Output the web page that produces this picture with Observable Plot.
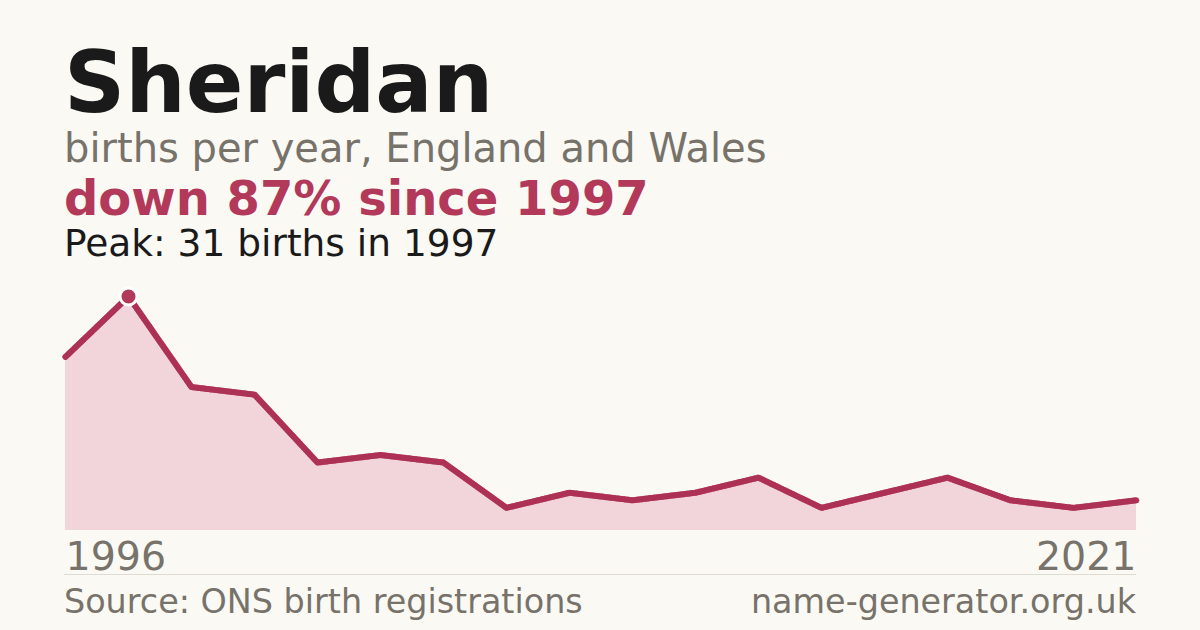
<!DOCTYPE html>
<html>
<head>
<meta charset="utf-8">
<script src="https://cdn.jsdelivr.net/npm/d3@7"></script>
<script src="https://cdn.jsdelivr.net/npm/@observablehq/plot@0.6"></script>
<style>
  html, body { margin: 0; padding: 0; background: #faf9f4; }
  body { width: 1200px; height: 630px; position: relative; overflow: hidden; font-family: "DejaVu Sans", sans-serif; }
  .t { position: absolute; left: 64px; white-space: nowrap; line-height: 0.85; }
  #title { font-size: 85px; font-weight: bold; color: #1a1a1a; top: 47px; }
  #sub { font-size: 40px; color: #77726a; top: 131px; }
  #down { font-size: 48px; font-weight: bold; color: #b3395a; top: 178px; }
  #peak { font-size: 37.5px; color: #1a1a1a; top: 228px; }
  #chart { position: absolute; left: 0; top: 270px; }
  #rule { position: absolute; left: 64px; width: 1072px; top: 574px; height: 0; border-top: 1px solid #dedbd3; }
  .foot { position: absolute; top: 585px; font-size: 33.4px; color: #77726a; white-space: nowrap; line-height: 1; }
  #src { left: 64px; }
  #site { right: 64px; }
</style>
</head>
<body>
<div class="t" id="title">Sheridan</div>
<div class="t" id="sub">births per year, England and Wales</div>
<div class="t" id="down">down 87% since 1997</div>
<div class="t" id="peak">Peak: 31 births in 1997</div>
<div id="chart"></div>
<div id="rule"></div>
<div class="foot" id="src">Source: ONS birth registrations</div>
<div class="foot" id="site">name-generator.org.uk</div>
<script>
const years = [1996, 1997, 1998, 1999, 2000, 2001, 2002, 2003, 2005, 2006, 2008, 2010, 2012, 2014, 2016, 2018, 2020, 2021];
const births = [23, 31, 19, 18, 9, 10, 9, 3, 5, 4, 5, 7, 3, 5, 7, 4, 3, 4];
const peakYear = 1997;
const peakValue = 31;

const data = years.map((y, i) => ({year: y, births: births[i]}));
const red = "#b3395a";

const chart = Plot.plot({
  width: 1200,
  height: 310,
  marginLeft: 64,
  marginRight: 64,
  marginTop: 26,
  marginBottom: 50,
  style: {background: "transparent", fontFamily: "DejaVu Sans, sans-serif"},
  x: {type: "point", domain: years, padding: 0, axis: null},
  y: {domain: [0, 31], axis: null},
  marks: [
    Plot.areaY(data, {x: "year", y: "births", fill: "#f2d5da"}),
    Plot.lineY(data, {x: "year", y: "births", stroke: "#c8687f", strokeWidth: 6}),
    Plot.lineY(data, {x: "year", y: "births", stroke: "#ad3055", strokeWidth: 6, strokeDasharray: "1.2 1.8"}),
    Plot.dot([{year: peakYear, births: peakValue}], {x: "year", y: "births", r: 8.5, fill: red, stroke: "#ffffff", strokeWidth: 3}),
    Plot.text([years[0]], {x: d => d, y: () => 0, text: d => String(d), textAnchor: "start", dy: 27, fontSize: 39.5, fill: "#77726a"}),
    Plot.text([years[years.length - 1]], {x: d => d, y: () => 0, text: d => String(d), textAnchor: "end", dy: 27, fontSize: 39.5, fill: "#77726a"})
  ]
});
document.getElementById("chart").appendChild(chart);
</script>
</body>
</html>
